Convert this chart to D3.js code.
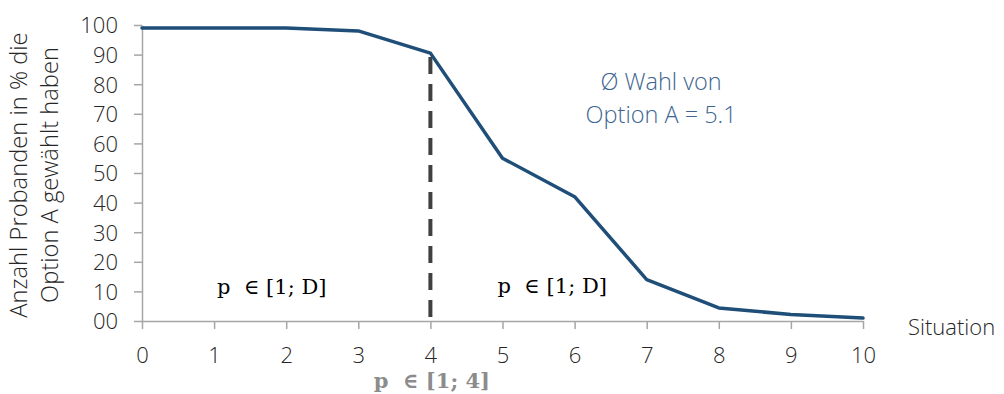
<!DOCTYPE html>
<html>
  <head>
    <meta http-equiv="Content-type" content="text/html; charset=utf-8"/>
    <title>Situation chart</title>
    <script src="https://d3js.org/d3.v7.min.js"></script>
    <style>
      body{ margin:0; background:#fff; }
      svg text{ font-family: "Open Sans", "DejaVu Sans", sans-serif; font-weight: 300; }
      svg text.math{ font-family: "DejaVu Serif", "Liberation Serif", serif; font-weight: normal; white-space: pre; }
    </style>
  </head>
  <body>
    <svg width="1004" height="394"></svg>
    <script>
      // data
      var situations = [0, 1, 2, 3, 4, 5, 6, 7, 8, 9, 10];
      var shareA = [99, 99, 99, 98, 90.5, 55, 42, 14, 4.4, 2.2, 1];
      var yTicks = [0, 10, 20, 30, 40, 50, 60, 70, 80, 90, 100];
      var yTickLabels = ["00", "10", "20", "30", "40", "50", "60", "70", "80", "90", "100"];
      var cutSituation = 4;
      var yLabelLines = ["Anzahl Probanden in % die", "Option A gewählt haben"];
      var avgLines = ["Ø Wahl von", "Option A = 5.1"];

      var svg = d3.select("svg"),
          margin = {top: 25, right: 141, bottom: 73, left: 142},
          width = 1004 - margin.left - margin.right,
          height = 394 - margin.top - margin.bottom,
          g = svg.append("g").attr("transform", "translate(" + margin.left + "," + margin.top + ")");

      var x = d3.scaleLinear().domain([0, 10]).range([0, width]);
      var y = d3.scaleLinear().domain([0, 100]).range([height, 0]);

      // y axis
      var yAxis = g.append("g")
          .call(d3.axisLeft(y).tickValues(yTicks).tickSize(8).tickSizeOuter(0)
            .tickFormat(function(d, i) { return yTickLabels[i]; }));
      yAxis.selectAll("line, path").attr("stroke", "#a6a6a6").attr("stroke-width", 1.5);
      yAxis.selectAll("text").attr("font-size", 22).attr("fill", "#262626").attr("x", -24).attr("dy", "0.36em");

      // x axis
      var xAxis = g.append("g")
          .attr("transform", "translate(0," + height + ")")
          .call(d3.axisBottom(x).tickValues(situations).tickSize(8).tickSizeOuter(0));
      xAxis.selectAll("line, path").attr("stroke", "#a6a6a6").attr("stroke-width", 1.5);
      xAxis.selectAll("text").attr("font-size", 22).attr("fill", "#262626").attr("y", 26).attr("dy", "0.71em");

      g.append("text")
          .attr("x", width + 45)
          .attr("y", height + 14)
          .attr("font-size", 22)
          .attr("fill", "#262626")
          .text("Situation");

      // y axis title
      var yTitle = g.append("text")
          .attr("transform", "translate(-115," + (height / 2 + 2) + ") rotate(-90)")
          .attr("text-anchor", "middle")
          .attr("font-size", 23.7)
          .attr("fill", "#262626");
      yTitle.selectAll("tspan").data(yLabelLines).join("tspan")
          .attr("x", 0)
          .attr("dy", function(d, i) { return i === 0 ? 0 : 31; })
          .text(function(d) { return d; });

      // dashed cut line
      g.append("line")
          .attr("x1", x(cutSituation)).attr("x2", x(cutSituation))
          .attr("y1", y(shareA[cutSituation]) + 4).attr("y2", y(0))
          .attr("stroke", "#404040")
          .attr("stroke-width", 4)
          .attr("stroke-dasharray", "17,10");

      // main line
      var line = d3.line()
          .x(function(d, i) { return x(situations[i]); })
          .y(function(d) { return y(d); });

      g.append("path")
          .datum(shareA)
          .attr("fill", "none")
          .attr("stroke", "#1f4e79")
          .attr("stroke-width", 3.5)
          .attr("stroke-linejoin", "round")
          .attr("stroke-linecap", "round")
          .attr("d", line);

      // average annotation
      var avg = g.append("text")
          .attr("text-anchor", "middle")
          .attr("font-size", 23.5)
          .attr("fill", "#3c6591");
      avg.selectAll("tspan").data(avgLines).join("tspan")
          .attr("x", x(7.2))
          .attr("y", function(d, i) { return y(80) + 6 + i * 33; })
          .text(function(d) { return d; });

      // range labels
      g.append("text")
          .attr("class", "math")
          .attr("x", x(1.8)).attr("y", y(0) - 27)
          .attr("text-anchor", "middle")
          .attr("font-size", 21)
          .attr("fill", "#000")
          .text("p  ∈ [1; D]");
      g.append("text")
          .attr("class", "math")
          .attr("x", x(5.69)).attr("y", y(0) - 28)
          .attr("text-anchor", "middle")
          .attr("font-size", 21)
          .attr("fill", "#000")
          .text("p  ∈ [1; D]");
      g.append("text")
          .attr("class", "math")
          .attr("x", x(4.02)).attr("y", y(0) + 67)
          .attr("text-anchor", "middle")
          .attr("font-size", 21)
          .style("font-weight", "bold")
          .attr("fill", "#8c8c8c")
          .text("p  ∈ [1; 4]");
    </script>
  </body>
</html>
